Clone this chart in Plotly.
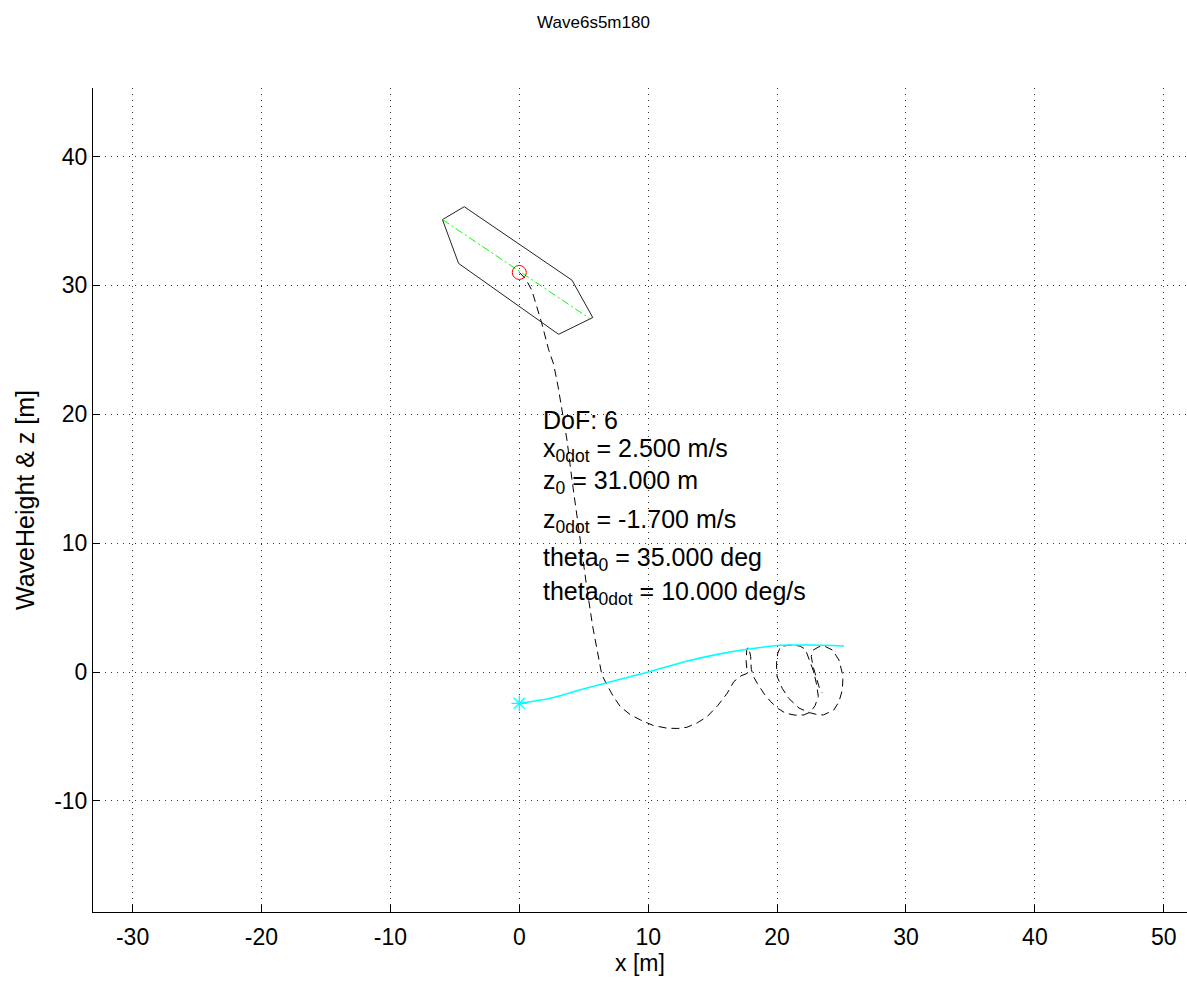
import plotly.graph_objects as go

title_text = "Wave6s5m180"
x_ticks = [-30, -20, -10, 0, 10, 20, 30, 40, 50]
x_tick_text = ["-30", "-20", "-10", "0", "10", "20", "30", "40", "50"]
y_ticks = [-10, 0, 10, 20, 30, 40]
y_tick_text = ["-10", "0", "10", "20", "30", "40"]

# boat hull outline
boat_x = [-5.96, -4.27, 4.09, 5.70, 3.05, -4.71, -5.96]
boat_y = [35.1, 36.1, 30.4, 27.5, 26.2, 31.7, 35.1]

# boat longitudinal axis
keel_x = [-5.96, 5.5]
keel_y = [35.1, 27.4]

# centre of gravity at start
cog_x = [0.0]
cog_y = [31.0]

# trajectory of the centre of gravity
traj_x = [0.0, 0.5, 0.98, 1.37, 1.76, 2.28, 2.66, 3.0, 3.3, 3.7, 4.09, 4.48, 4.87, 5.26, 5.7,
          6.1, 6.4, 6.8, 7.3, 7.84, 8.6, 9.4, 10.4, 11.47, 12.3, 13.0, 13.8, 14.58, 15.4,
          16.13, 16.64, 17.2, 17.69, 17.6, 17.65, 17.8, 17.95, 18.0, 18.2, 18.46, 19.0,
          19.5, 20.1, 20.66, 21.4, 22.08, 22.6, 22.95, 23.2, 23.05, 22.85, 22.6, 22.4,
          22.2, 21.8, 21.3, 20.7, 20.27, 20.05, 19.95, 20.0, 20.4, 20.9, 21.7, 22.5, 23.1,
          23.6, 24.4, 24.8, 25.06, 25.1, 25.06, 24.8, 24.3, 23.7, 23.25, 22.8, 22.65, 22.8,
          23.05, 23.3, 23.5]
traj_y = [31.0, 30.5, 29.6, 28.3, 27.0, 25.0, 23.9, 22.2, 20.3, 18.0, 14.9, 12.0, 8.9, 6.4, 3.5,
          1.2, -0.2, -1.0, -1.9, -2.69, -3.3, -3.72, -4.15, -4.36, -4.38, -4.29, -3.95, -3.46,
          -2.6, -1.65, -0.75, -0.3, -0.1, 0.8, 1.8, 1.9, 1.2, 0.2, -0.4, -0.88, -1.7, -2.3,
          -2.85, -3.2, -3.35, -3.33, -3.1, -2.6, -1.9, -0.9, 0.0, 0.67, 1.3, 1.75, 2.0, 2.09,
          2.05, 1.96, 1.45, 0.6, -0.36, -1.27, -2.04, -2.8, -3.15, -3.3, -3.33, -2.95, -2.3,
          -1.4, -0.6, -0.1, 0.93, 1.7, 2.0, 1.96, 1.7, 1.2, 0.4, -0.5, -1.3, -1.6]

# wave surface
wave_x = [0.0, 2.41, 4.48, 6.81, 9.94, 13.05, 15.36, 17.69, 20.27, 22.35, 25.19]
wave_y = [-2.43, -2.04, -1.45, -0.83, -0.02, 0.85, 1.37, 1.76, 2.07, 2.09, 2.02]

info_lines = [
    "DoF: 6",
    "x<sub>0dot</sub> = 2.500 m/s",
    "z<sub>0</sub> = 31.000 m",
    "z<sub>0dot</sub> = -1.700 m/s",
    "theta<sub>0</sub> = 35.000 deg",
    "theta<sub>0dot</sub> = 10.000 deg/s",
]
info_y = [19.55, 17.25, 14.75, 11.75, 8.8, 6.1]
info_x = 1.71

FONT = "Liberation Sans, Arial, sans-serif"

fig = go.Figure()
fig.add_trace(go.Scatter(x=traj_x, y=traj_y, mode="lines",
                         line=dict(color="black", width=1, dash="8px,5px"),
                         hoverinfo="skip"))
fig.add_trace(go.Scatter(x=boat_x, y=boat_y, mode="lines",
                         line=dict(color="#222222", width=1), hoverinfo="skip"))
fig.add_trace(go.Scatter(x=keel_x, y=keel_y, mode="lines",
                         line=dict(color="#00ff00", width=1, dash="8px,3px,2px,3px"),
                         hoverinfo="skip"))
fig.add_trace(go.Scatter(x=cog_x, y=cog_y, mode="markers",
                         marker=dict(symbol="circle-open", size=14, color="red",
                                     line=dict(color="red", width=1)),
                         hoverinfo="skip"))
fig.add_trace(go.Scatter(x=wave_x, y=wave_y, mode="lines",
                         line=dict(color="#00ffff", width=1.6, shape="spline"),
                         hoverinfo="skip"))
fig.add_trace(go.Scatter(x=[wave_x[0]], y=[wave_y[0]], mode="markers",
                         marker=dict(symbol="asterisk-open", size=13, color="#00ffff",
                                     line=dict(color="#00ffff", width=1.3)),
                         hoverinfo="skip"))

for txt, yy in zip(info_lines, info_y):
    fig.add_annotation(x=info_x, y=yy, text=txt, showarrow=False,
                       xanchor="left", yanchor="middle",
                       font=dict(family=FONT, size=25, color="black"))

axis_common = dict(showline=True, linecolor="black", linewidth=1, mirror=False,
                   ticks="inside", ticklen=7, tickcolor="black", tickwidth=1,
                   showgrid=True, gridcolor="#333333", gridwidth=1, griddash="1px,5px",
                   zeroline=False, tickfont=dict(family=FONT, size=23, color="black"))

fig.update_xaxes(range=[-33.07, 51.80], tickvals=x_ticks, ticktext=x_tick_text,
                 ticklabelstandoff=4,
                 title=dict(text="x [m]", font=dict(family=FONT, size=23, color="black"),
                            standoff=6),
                 **axis_common)
fig.update_yaxes(range=[-18.62, 45.31], tickvals=y_ticks, ticktext=y_tick_text,
                 title=dict(text="WaveHeight &amp; z [m]", font=dict(family=FONT, size=25, color="black"),
                            standoff=12),
                 **axis_common)

fig.update_layout(
    width=1187, height=982,
    margin=dict(l=93, r=0, t=88, b=70, autoexpand=False),
    plot_bgcolor="white", paper_bgcolor="white",
    showlegend=False,
    title=dict(text=title_text, x=0.5, xref="container", xanchor="center",
               y=1 - 22 / 982, yref="container", yanchor="middle",
               font=dict(family=FONT, size=17, color="black")),
)

fig.write_html("out.html", config={"displayModeBar": False},
               post_script="document.body.style.margin='0px';document.body.style.overflow='hidden';")
